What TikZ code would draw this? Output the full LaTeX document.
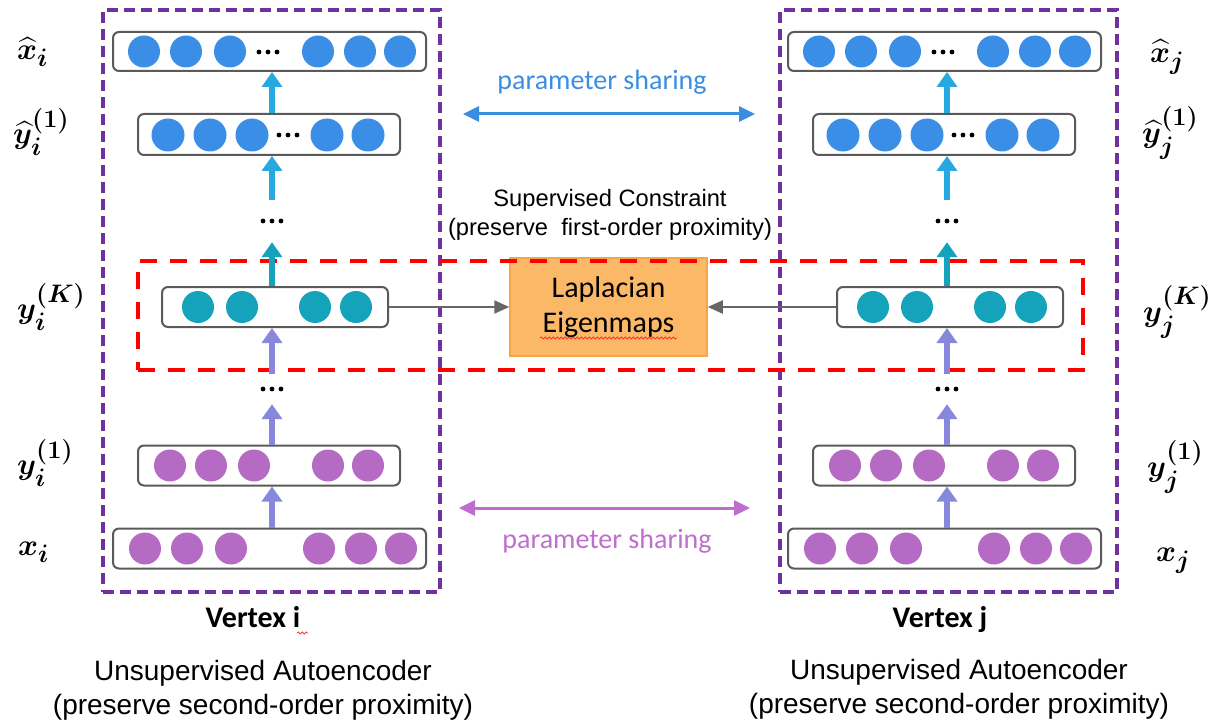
\documentclass[tikz,border=0pt]{standalone}
\usepackage{amsmath}
\usepackage{bm}
\usepackage{fontspec}
\setmainfont{Liberation Sans}
\newfontfamily\calib{Carlito}
\usetikzlibrary{arrows.meta,decorations.pathmorphing}

\definecolor{frameviolet}{HTML}{7030A0}
\definecolor{framered}{HTML}{FF0000}
\definecolor{nodeblue}{HTML}{3A8EE6}
\definecolor{nodeteal}{HTML}{14A3BA}
\definecolor{nodepurple}{HTML}{B56AC4}
\definecolor{upcyan}{HTML}{27A8E0}
\definecolor{upteal}{HTML}{14A3BA}
\definecolor{uplav}{HTML}{8787DC}
\definecolor{lapfill}{HTML}{FBB968}
\definecolor{lapdraw}{HTML}{F5A54A}
\definecolor{sharblue}{HTML}{3A8EE0}
\definecolor{sharpurple}{HTML}{BF6ECF}
\definecolor{boxgray}{HTML}{5A5A5A}
\definecolor{linkgray}{HTML}{666666}

\newcommand\rowdots[2]{%
  \fill (#1-9,#2) circle (2.4) (#1,#2) circle (2.4) (#1+9,#2) circle (2.4);}
% layer names are set in bold math and enlarged
\newcommand\layername[1]{\scalebox{1.22}{\fontsize{24.88}{30}\selectfont$#1$}}

\tikzset{
  rowbox/.style={draw=boxgray, line width=2, rounded corners=6, fill=white, inner sep=0},
  vframe/.style={draw=frameviolet, line width=3.5, dash pattern=on 11 off 6, inner sep=0},
  rframe/.style={draw=framered, line width=4, dash pattern=on 17 off 13, inner sep=0},
  dotsbox/.style={inner sep=0, minimum width=30},
  uparrow/.style={line width=6.5, -{Triangle[width=20,length=15]}},
  linkarrow/.style={draw=linkgray, line width=2, -{Triangle[width=13,length=15]}},
  sharearrow/.style={line width=3, {Triangle[width=15,length=16]}-{Triangle[width=15,length=16]}},
  mlabel/.style={inner sep=0},
  wavy/.style={draw=red!80, line width=0.8, decorate,
    decoration={snake, segment length=4, amplitude=1}},
}

\begin{document}
\begin{tikzpicture}[x=1pt, y=-1pt]
\useasboundingbox (0,0) rectangle (1209,722);

% dashed frames of the two autoencoders
\node[vframe, minimum width=337, minimum height=582] (fr-i) at (271.5,301) {};
\node[vframe, minimum width=337, minimum height=582] (fr-j) at (948.5,301) {};

% Laplacian Eigenmaps block
\node[draw=lapdraw, line width=1.5, fill=lapfill, minimum width=197, minimum height=98,
      align=center, font=\calib\fontsize{30}{35}\selectfont] (lap) at (608.5,307)
      {Laplacian\\Eigenmaps};
\draw[wavy] (540,338) -- (677,338);

% red frame around the embedding layer
\node[rframe, minimum width=945, minimum height=109] (rfr) at (610.5,315.5) {};

\foreach \s/\dx in {i/0,j/675}{
  \coordinate (col-\s) at (272+\dx,0);
  % layer boxes
  \node[rowbox, minimum width=313, minimum height=39] (xh-\s) at (269.5+\dx,51.5) {};
  \node[rowbox, minimum width=262, minimum height=41] (yh-\s) at (269+\dx,134.5) {};
  \node[rowbox, minimum width=226, minimum height=40] (yk-\s) at (275+\dx,307) {};
  \node[rowbox, minimum width=262, minimum height=40] (y1-\s) at (269+\dx,465.5) {};
  \node[rowbox, minimum width=313, minimum height=40] (x-\s) at (269.5+\dx,548.5) {};
  % standalone ellipses between layers
  \node[dotsbox, minimum height=42] (da-\s) at (272+\dx,221) {};
  \node[dotsbox, minimum height=30] (db-\s) at (272+\dx,389) {};
  \rowdots{272+\dx}{221}
  \rowdots{272+\dx}{389}
  % units
  \foreach \c in {144,186,230,318,360,400}
    \fill[nodeblue] (\c+\dx,51.5) circle (16);
  \rowdots{268+\dx}{52}
  \foreach \c in {168,210,252,327,368}
    \fill[nodeblue] (\c+\dx,135) circle (16.5);
  \rowdots{288+\dx}{135}
  \foreach \c in {198,242,315,356}
    \fill[nodeteal] (\c+\dx,307) circle (16);
  \foreach \c in {170,211,254,328,368}
    \fill[nodepurple] (\c+\dx,465.5) circle (16);
  \foreach \c in {145,187,231,319,361,401}
    \fill[nodepurple] (\c+\dx,548.5) circle (16);
  % upward flow
  \draw[uparrow, uplav] (x-\s.north -| col-\s) -- (y1-\s.south -| col-\s);
  \draw[uparrow, uplav] (y1-\s.north -| col-\s) -- (db-\s.south);
  \draw[uparrow, uplav] (db-\s.north) -- (yk-\s.south -| col-\s);
  \draw[uparrow, upteal] (yk-\s.north -| col-\s) -- (da-\s.south);
  \draw[uparrow, upcyan] (da-\s.north) -- (yh-\s.south -| col-\s);
  \draw[uparrow, upcyan] (yh-\s.north -| col-\s) -- (xh-\s.south -| col-\s);
}

% links into the Laplacian Eigenmaps block
\draw[linkarrow] (yk-i.east) -- (lap.west |- yk-i.east);
\draw[linkarrow] (yk-j.west) -- (lap.east |- yk-j.west);

% layer names, vertex i
\node[mlabel, anchor=west] (lxh-i) at (17,52) {\layername{\widehat{\bm{x}}_{\bm{i}}}};
\node[mlabel, anchor=west] (lyh-i) at (13,132) {\layername{{\widehat{\bm{y}}_{\bm{i}}}^{\bm{(1)}}}};
\node[mlabel, anchor=west] (lyk-i) at (17,307) {\layername{\bm{y}_{\bm{i}}^{\bm{(K)}}}};
\node[mlabel, anchor=west] (ly1-i) at (17,463) {\layername{\bm{y}_{\bm{i}}^{\bm{(1)}}}};
\node[mlabel, anchor=west] (lx-i) at (18,552) {\layername{\bm{x}_{\bm{i}}}};
% layer names, vertex j
\node[mlabel, anchor=west] (lxh-j) at (1150,57) {\layername{\widehat{\bm{x}}_{\bm{j}}}};
\node[mlabel, anchor=west] (lyh-j) at (1142,133) {\layername{{\widehat{\bm{y}}_{\bm{j}}}^{\bm{(1)}}}};
\node[mlabel, anchor=west] (lyk-j) at (1143,312) {\layername{\bm{y}_{\bm{j}}^{\bm{(K)}}}};
\node[mlabel, anchor=west] (ly1-j) at (1147,467) {\layername{\bm{y}_{\bm{j}}^{\bm{(1)}}}};
\node[mlabel, anchor=west] (lx-j) at (1156,561) {\layername{\bm{x}_{\bm{j}}}};

% parameter sharing between the two autoencoders
\node[text=sharblue, font=\calib\fontsize{28}{34}\selectfont, anchor=base] (ps-top) at (602,90) {parameter sharing};
\coordinate (pst-l) at (463,114);
\coordinate (pst-r) at (755,114);
\draw[sharearrow, sharblue] (pst-l) -- (pst-r);
\node[text=sharpurple, font=\calib\fontsize{28}{34}\selectfont, anchor=base] (ps-bot) at (607,548) {parameter sharing};
\coordinate (psb-l) at (459,508);
\coordinate (psb-r) at (750,508);
\draw[sharearrow, sharpurple] (psb-l) -- (psb-r);

% supervised constraint caption
\node[font=\fontsize{23.7}{29}\selectfont, anchor=base] (sc1) at (610,206) {Supervised Constraint};
\node[font=\fontsize{23.7}{29}\selectfont, anchor=base] (sc2) at (610,235) {(preserve\ \ first-order proximity)};

% vertex captions
\node[font=\calib\bfseries\fontsize{30}{36}\selectfont, anchor=base] (vi) at (253,627) {Vertex i};
\draw[wavy] (297,633) -- (308,633);
\node[font=\calib\bfseries\fontsize{30}{36}\selectfont, anchor=base] (vj) at (940,627) {Vertex j};

% autoencoder captions
\node[font=\fontsize{28}{34}\selectfont, anchor=base] (ua-i) at (263,680) {Unsupervised Autoencoder};
\node[font=\fontsize{28}{34}\selectfont, anchor=base] (up-i) at (263,714) {(preserve second-order proximity)};
\node[font=\fontsize{28}{34}\selectfont, anchor=base] (ua-j) at (959,679) {Unsupervised Autoencoder};
\node[font=\fontsize{28}{34}\selectfont, anchor=base] (up-j) at (959,713) {(preserve second-order proximity)};
\end{tikzpicture}
\end{document}
